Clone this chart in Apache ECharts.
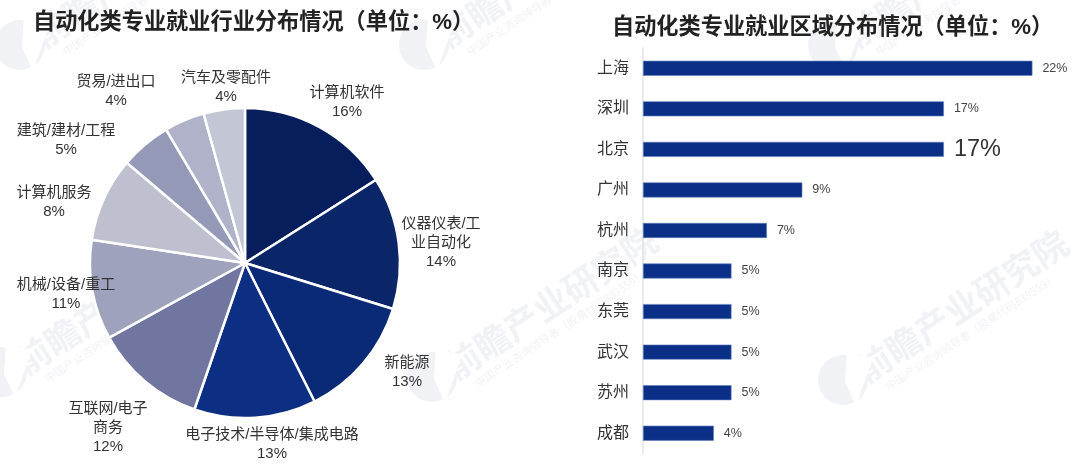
<!DOCTYPE html>
<html><head><meta charset="utf-8">
<script src="https://cdn.jsdelivr.net/npm/echarts@6/dist/echarts.min.js"></script>
<style>html,body{margin:0;padding:0;background:#fff}#c{width:1080px;height:472px}</style>
</head><body><div id="c"></div>
<script>
const pieTitle = '自动化类专业就业行业分布情况（单位：%）';
const barTitle = '自动化类专业就业区域分布情况（单位：%）';
const industries = ['计算机软件','仪器仪表/工\n业自动化','新能源','电子技术/半导体/集成电路','互联网/电子\n商务','机械/设备/重工','计算机服务','建筑/建材/工程','贸易/进出口','汽车及零配件'];
const industryLabels = [16,14,13,13,12,11,8,5,4,4];
const industrySlices = [16,13.8,12.8,12.7,11.7,10.4,8.8,5.3,4.2,4.3];
const pieColors = ['#061f5c','#0a2568','#0a2a78','#0c2e83','#7076a0','#9fa2bd','#bec0d0','#9499b8','#afb2c8','#c3c6d5'];
const pieLabelCenters = [[347,102],[441,243],[407,372],[272,444],[108,428],[66,294],[54,202],[66,140],[116,91],[226,87]];
const cities = ['上海','深圳','北京','广州','杭州','南京','东莞','武汉','苏州','成都'];
const cityValues = [22,17,17,9,7,5,5,5,5,4];
const watermarkLogos = [[2,372],[432,377],[843,380],[20,45],[424,45],[833,45]];

const FONT = '"Liberation Sans","Noto Sans CJK SC",sans-serif';
const WM = '#f1f2f5';
const graphic = [];
watermarkLogos.forEach(([x,y]) => {
  graphic.push({type:'circle',z:-10,silent:true,shape:{cx:x,cy:y,r:25},style:{fill:WM}});
  graphic.push({type:'polygon',z:-9,silent:true,shape:{points:[[x+4,y-28],[x+30,y-22],[x+13,y+26],[x+2,y+2]]},style:{fill:'#fff'}});
  graphic.push({type:'text',z:-10,silent:true,x:x+119,y:y-74,rotation:0.58,
    style:{text:'前瞻产业研究院',fill:WM,font:'bold 35px "Noto Sans CJK SC"',align:'center',verticalAlign:'middle'}});
  graphic.push({type:'text',z:-10,silent:true,x:x+128,y:y-48,rotation:0.58,
    style:{text:'中国产业咨询领导者（股票代码839559）',fill:WM,font:'11px "Noto Sans CJK SC"',align:'center',verticalAlign:'middle'}});
});

const chart = echarts.init(document.getElementById('c'), null, {renderer:'canvas'});
chart.setOption({
  animation:false,
  backgroundColor:'#fff',
  graphic,
  title:[
    {text:pieTitle,left:28,top:7,textStyle:{fontFamily:FONT,fontSize:22.2,fontWeight:'bold',color:'#222'}},
    {text:barTitle,left:607,top:12,textStyle:{fontFamily:FONT,fontSize:22.2,fontWeight:'bold',color:'#222'}}
  ],
  grid:{left:643,top:48,width:424.8,height:405.5,containLabel:false},
  xAxis:{type:'value',min:0,max:24,show:false},
  yAxis:{type:'category',inverse:true,data:cities,
    axisLine:{show:true,lineStyle:{color:'#e2e3ea',width:1.5}},axisTick:{show:false},
    axisLabel:{fontFamily:FONT,fontSize:16,color:'#333',margin:14}},
  series:[
    {type:'pie',center:[245,263],radius:[0,155],startAngle:90,clockwise:true,
     data:industries.map((n,i)=>({name:n,value:industrySlices[i],itemStyle:{color:pieColors[i]},
       label:{formatter:n+'\n'+industryLabels[i]+'%'}})),
     itemStyle:{borderColor:'#fff',borderWidth:2.5},
     emphasis:{disabled:true},
     label:{show:true,position:'outside',overflow:'none',edgeDistance:0,bleedMargin:0,fontFamily:FONT,fontSize:15,lineHeight:19,color:'#333',align:'center'},
     labelLine:{show:false},
     labelLayout:p=>{const c=pieLabelCenters[p.dataIndex];return {x:c[0],y:c[1],align:'center',verticalAlign:'middle'};}
    },
    {type:'bar',barWidth:15,data:cityValues.map((v,i)=>i===2?{value:v,label:{fontSize:23.5,color:'#333',distance:10}}:v),
     itemStyle:{color:'#0b2f86',borderColor:'#5f7fbd',borderWidth:0.6},
     label:{show:true,position:'right',distance:10,formatter:'{c}%',fontFamily:FONT,fontSize:12.5,color:'#444'}}
  ]
});
</script></body></html>
